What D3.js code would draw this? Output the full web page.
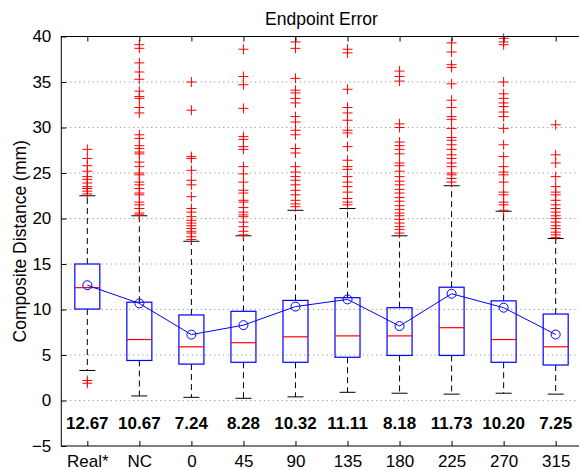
<!DOCTYPE html>
<html>
<head>
<meta charset="utf-8">
<script src="https://cdn.jsdelivr.net/npm/d3@7"></script>
<style>
  body { margin: 0; background: #fff; }
  text { font-family: "Liberation Sans", Arial, Helvetica, sans-serif; }
</style>
</head>
<body>
<svg id="chart" width="579" height="470"></svg>
<script>
var categories = ["Real*", "NC", "0", "45", "90", "135", "180", "225", "270", "315"];
var means = [12.67, 10.67, 7.24, 8.28, 10.32, 11.11, 8.18, 11.73, 10.20, 7.25];
var q1 = [10.05, 4.4, 4.0, 4.2, 4.2, 4.75, 4.95, 4.95, 4.2, 3.9];
var medians = [12.4, 6.7, 5.9, 6.35, 7.0, 7.1, 7.1, 8.0, 6.7, 5.9];
var q3 = [15.0, 10.8, 9.4, 9.8, 11.0, 11.3, 10.2, 12.45, 10.95, 9.5];
var whiskerLow = [3.3, 0.5, 0.35, 0.24, 0.4, 0.9, 0.8, 0.7, 0.8, 0.7];
var whiskerHigh = [22.5, 20.3, 17.5, 18.1, 20.9, 21.1, 18.1, 23.6, 20.8, 17.8];
var yTicks = [-5, 0, 5, 10, 15, 20, 25, 30, 35, 40];

var outliers = [
    [27.6, 26.6, 25.8, 25.2, 24.6, 24.3, 23.9, 23.5, 23.3, 23.0, 22.7, 2.2, 1.9],
    [39.1, 38.7, 37.1, 36.1, 35.3, 34.0, 33.4, 33.2, 32.2, 31.6, 29.2, 28.8, 28.0, 27.7, 27.3,
     27.1, 26.2, 25.7, 25.0, 24.8, 24.0, 23.7, 23.3, 22.8, 22.6, 21.8, 21.5, 21.1, 20.6, 20.4],
    [35.0, 31.9, 26.8, 26.6, 25.3, 24.2, 23.7, 22.4, 21.1, 20.7, 20.2, 19.8, 19.5, 19.2, 18.9,
     18.6, 18.4, 18.0, 17.7],
    [38.6, 35.6, 34.7, 32.1, 29.0, 28.7, 27.9, 27.6, 25.7, 24.9, 24.0, 23.1, 22.8, 22.0, 21.8,
     21.2, 20.7, 20.4, 20.2, 19.6, 19.1, 18.6, 18.2],
    [39.4, 38.7, 35.4, 34.1, 33.8, 33.2, 32.7, 31.2, 30.6, 29.7, 29.2, 27.7, 27.2, 25.7, 25.1,
     24.6, 24.2, 23.7, 23.1, 22.6, 22.0, 21.6, 21.3],
    [38.6, 38.2, 34.2, 32.2, 31.6, 30.8, 29.7, 29.4, 27.9, 26.4, 25.7, 25.4, 24.6, 24.0, 23.5,
     22.9, 22.2, 21.8, 21.5],
    [36.2, 35.6, 35.1, 30.4, 30.0, 28.4, 28.0, 27.6, 27.1, 26.1, 25.8, 25.2, 24.6, 24.1, 23.7,
     23.2, 22.8, 22.3, 21.9, 21.4, 21.0, 20.6, 20.3, 19.9, 19.5, 19.1, 18.8, 18.4],
    [39.3, 38.3, 36.9, 36.6, 34.8, 33.0, 32.2, 31.2, 30.9, 29.9, 28.9, 28.6, 28.1, 27.6, 27.0,
     26.6, 26.1, 25.7, 25.0, 24.8, 24.4, 24.0],
    [39.8, 39.4, 39.1, 35.0, 33.7, 33.2, 32.7, 32.3, 31.7, 31.2, 29.9, 28.1, 26.8, 25.7, 25.1,
     24.8, 24.0, 22.9, 22.6, 21.8, 21.5, 20.9],
    [30.3, 27.0, 26.1, 24.6, 23.5, 22.9, 22.6, 22.0, 21.5, 21.1, 20.7, 20.3, 20.0, 19.6, 19.2,
     18.9, 18.5, 18.2, 17.9]
];

var svg = d3.select("#chart"),
    margin = {top: 36.5, left: 61.3},
    width = 520.4,
    height = 409.5;

var x = d3.scaleLinear().domain([0.5, 10.5]).range([0, width]);
var y = d3.scaleLinear().domain([-5, 40]).range([height, 0]);

var g = svg.append("g").attr("transform", "translate(" + margin.left + "," + margin.top + ")");

var boxW = 25, capW = 16;

// grid
g.append("g").selectAll("line")
    .data(yTicks.slice(1, -1))
    .enter().append("line")
    .attr("x1", 0).attr("x2", width)
    .attr("y1", function(d) { return y(d); })
    .attr("y2", function(d) { return y(d); })
    .attr("stroke", "#666")
    .attr("stroke-width", 0.8)
    .attr("stroke-dasharray", "1,3.5");

var boxes = categories.map(function(c, i) {
    return {i: i + 1, q1: q1[i], med: medians[i], q3: q3[i], lo: whiskerLow[i], hi: whiskerHigh[i], mean: means[i]};
});

// whiskers
var wg = g.append("g").attr("stroke", "#000").attr("stroke-width", 1);
boxes.forEach(function(b) {
    var cx = x(b.i);
    wg.append("line").attr("x1", cx).attr("x2", cx).attr("y1", y(b.q3)).attr("y2", y(b.hi))
        .attr("stroke-dasharray", "6,4");
    wg.append("line").attr("x1", cx).attr("x2", cx).attr("y1", y(b.q1)).attr("y2", y(b.lo))
        .attr("stroke-dasharray", "6,4");
    wg.append("line").attr("x1", cx - capW / 2).attr("x2", cx + capW / 2).attr("y1", y(b.hi)).attr("y2", y(b.hi));
    wg.append("line").attr("x1", cx - capW / 2).attr("x2", cx + capW / 2).attr("y1", y(b.lo)).attr("y2", y(b.lo));
});

// outliers
var og = g.append("g").attr("stroke", "#ff0000").attr("stroke-width", 1);
outliers.forEach(function(list, i) {
    var cx = x(i + 1);
    list.forEach(function(v) {
        var cy = y(v);
        og.append("line").attr("x1", cx - 5).attr("x2", cx + 5).attr("y1", cy).attr("y2", cy);
        og.append("line").attr("x1", cx).attr("x2", cx).attr("y1", cy - 5).attr("y2", cy + 5);
    });
});

// boxes
g.append("g").selectAll("rect")
    .data(boxes)
    .enter().append("rect")
    .attr("x", function(d) { return x(d.i) - boxW / 2; })
    .attr("y", function(d) { return y(d.q3); })
    .attr("width", boxW)
    .attr("height", function(d) { return y(d.q1) - y(d.q3); })
    .attr("fill", "none")
    .attr("stroke", "#0000ff")
    .attr("stroke-width", 1.2);

g.append("g").selectAll("line")
    .data(boxes)
    .enter().append("line")
    .attr("x1", function(d) { return x(d.i) - boxW / 2; })
    .attr("x2", function(d) { return x(d.i) + boxW / 2; })
    .attr("y1", function(d) { return y(d.med); })
    .attr("y2", function(d) { return y(d.med); })
    .attr("stroke", "#ff0000")
    .attr("stroke-width", 1.2);

// mean line + circles
var line = d3.line()
    .x(function(d) { return x(d.i); })
    .y(function(d) { return y(d.mean); });

g.append("path")
    .datum(boxes)
    .attr("d", line)
    .attr("fill", "none")
    .attr("stroke", "#0000ff")
    .attr("stroke-width", 1);

g.append("g").selectAll("circle")
    .data(boxes)
    .enter().append("circle")
    .attr("cx", function(d) { return x(d.i); })
    .attr("cy", function(d) { return y(d.mean); })
    .attr("r", 4.5)
    .attr("fill", "none")
    .attr("stroke", "#0000ff")
    .attr("stroke-width", 1);

// mean labels
g.append("g").selectAll("text")
    .data(boxes)
    .enter().append("text")
    .attr("x", function(d) { return x(d.i); })
    .attr("y", y(-2.5))
    .attr("dy", "0.36em")
    .attr("text-anchor", "middle")
    .attr("font-weight", "bold")
    .attr("font-size", "17px")
    .text(function(d) { return d.mean.toFixed(2); });

// axes
var xAxis = d3.axisBottom(x)
    .tickValues(d3.range(1, 11))
    .tickFormat(function(d) { return categories[d - 1]; })
    .tickSizeInner(-5).tickSizeOuter(0).tickPadding(8.5);

var xg = g.append("g").attr("transform", "translate(0," + height + ")").call(xAxis);
xg.select(".domain").remove();
xg.selectAll("text").attr("font-size", "17px").attr("fill", "#000").attr("font-family", "Liberation Sans, Arial, sans-serif");

var xTop = d3.axisTop(x).tickValues(d3.range(1, 11)).tickFormat("").tickSizeInner(-5).tickSizeOuter(0);
var xt = g.append("g").call(xTop);
xt.select(".domain").remove();

var yAxis = d3.axisLeft(y).tickValues(yTicks).tickFormat(d3.format("d"))
    .tickSizeInner(-5).tickSizeOuter(0).tickPadding(10);
var yg = g.append("g").call(yAxis);
yg.select(".domain").remove();
yg.selectAll("text").attr("font-size", "17px").attr("fill", "#000").attr("font-family", "Liberation Sans, Arial, sans-serif")
    .text(function(d) { return d < 0 ? "\u2212" + Math.abs(d) : d; });

// frame
g.append("rect")
    .attr("x", 0).attr("y", 0)
    .attr("width", width).attr("height", height)
    .attr("fill", "none")
    .attr("stroke", "#000")
    .attr("stroke-width", 1);

// title and label
svg.append("text")
    .attr("x", margin.left + width / 2)
    .attr("y", 25)
    .attr("text-anchor", "middle")
    .attr("font-size", "17.5px")
    .text("Endpoint Error");

svg.append("text")
    .attr("transform", "translate(25.5," + (margin.top + height / 2) + ") rotate(-90)")
    .attr("text-anchor", "middle")
    .attr("font-size", "17.5px")
    .text("Composite Distance (mm)");
</script>
</body>
</html>
